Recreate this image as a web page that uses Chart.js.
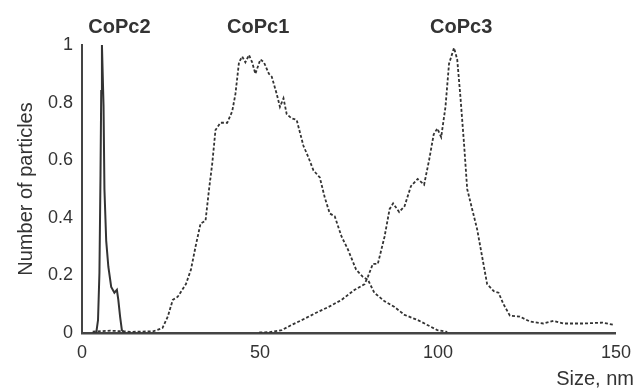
<!DOCTYPE html>
<html>
<head>
<meta charset="utf-8">
<script src="https://cdn.jsdelivr.net/npm/chart.js@4"></script>
<style>
  body { margin: 0; background: #fff; }
  #wrap { width: 640px; height: 389px; }
</style>
</head>
<body>
<div id="wrap"><canvas id="myChart" width="640" height="389"></canvas></div>
<script>
// particle size distributions (size in nm, normalised number of particles)
const sizeCoPc2 = [3, 4.0, 4.5, 4.9, 5.2, 5.4, 5.6, 6.05, 6.3, 6.8, 7.4, 8.2, 9.1, 9.8, 10.2, 10.7, 11.2, 12];
const countCoPc2 = [0, 0, 0.045, 0.21, 0.55, 0.84, 1.0, 0.79, 0.50, 0.32, 0.23, 0.16, 0.14, 0.15, 0.115, 0.057, 0.01, 0];

const sizeCoPc1 = [3, 8, 14, 20, 22.6, 24.1, 25.5, 26.9, 29.2, 30.6, 31.9, 33.3, 34.7, 35.7, 36.6, 37.5, 38.9, 40.8, 42.2, 43.1,
  44.1, 45.0, 45.9, 46.9, 47.8, 48.7, 50.1, 51.1, 52.5, 53.3, 54.7, 55.6, 56.6, 57.5, 58.9, 60.3, 62.2, 63.6, 65.0, 66.8,
  68.2, 69.6, 71.0, 72.9, 74.7, 77.0, 78.9, 80.3, 82.1, 85.0, 87.8, 90.6, 94.3, 97.0, 99.8, 102.6];
const countCoPc1 = [0.005, 0.008, 0.004, 0.006, 0.017, 0.057, 0.115, 0.126, 0.17, 0.22, 0.30, 0.38, 0.39, 0.50, 0.59, 0.705, 0.73, 0.73, 0.77, 0.83,
  0.94, 0.96, 0.94, 0.965, 0.94, 0.90, 0.95, 0.94, 0.90, 0.89, 0.83, 0.785, 0.815, 0.76, 0.745, 0.74, 0.65, 0.61, 0.565, 0.54,
  0.47, 0.415, 0.405, 0.335, 0.29, 0.22, 0.195, 0.185, 0.14, 0.11, 0.09, 0.063, 0.045, 0.028, 0.01, 0.004];

const sizeCoPc3 = [49.8, 52.8, 56.1, 58.9, 62.6, 65.4, 69.2, 72.9, 76.6, 79.4, 80.3, 81.7, 83.1, 85.0, 86.4, 87.4, 89.1, 90.6, 92.4, 94.3,
  96.1, 97.5, 98.8, 99.8, 100.9, 102.1, 103.1, 104.5, 105.4, 106.3, 107.3, 108.2, 109.6, 111.0, 112.4, 113.8, 115.7, 117.0, 118.4, 120.2,
  123.0, 125.8, 129.6, 132.4, 135.2, 140.7, 146.3, 149.5];
const countCoPc3 = [0.002, 0.003, 0.01, 0.028, 0.05, 0.068, 0.09, 0.115, 0.15, 0.17, 0.195, 0.24, 0.24, 0.335, 0.43, 0.45, 0.42, 0.44, 0.51, 0.535,
  0.515, 0.60, 0.69, 0.71, 0.68, 0.785, 0.935, 0.99, 0.95, 0.82, 0.66, 0.50, 0.43, 0.36, 0.265, 0.17, 0.145, 0.14, 0.10, 0.06,
  0.057, 0.04, 0.033, 0.042, 0.033, 0.033, 0.036, 0.028];

const seriesNames = ['CoPc2', 'CoPc1', 'CoPc3'];
const labelSizes = [10.5, 49.5, 106.5];
const xTicks = [0, 50, 100, 150];
const yTicks = [0, 0.2, 0.4, 0.6, 0.8, 1];

const font = '"Liberation Sans", Arial, sans-serif';
const ink = '#333';

function points(xs, ys) {
    return xs.map((x, i) => ({ x: x, y: ys[i] }));
}

// draws the series names above the plot and the x axis title
const textPlugin = {
    id: 'textPlugin',
    afterDraw(chart) {
        const c = chart.ctx;
        const area = chart.chartArea;
        const xs = chart.scales.x;
        c.save();
        c.fillStyle = ink;
        c.textAlign = 'center';
        c.textBaseline = 'alphabetic';
        c.font = 'bold 20px ' + font;
        seriesNames.forEach((n, i) => {
            c.fillText(n, xs.getPixelForValue(labelSizes[i]), area.top - 12);
        });
        c.font = '20px ' + font;
        c.textAlign = 'right';
        c.fillText('Size, nm', area.right + 18, area.bottom + 52);
        c.restore();
    }
};

const ctx = document.getElementById('myChart').getContext('2d');
const myChart = new Chart(ctx, {
    type: 'line',
    data: {
        datasets: [{
            label: seriesNames[0],
            data: points(sizeCoPc2, countCoPc2),
            borderColor: '#333',
            borderWidth: 2,
            pointRadius: 0,
            tension: 0
        }, {
            label: seriesNames[1],
            data: points(sizeCoPc1, countCoPc1),
            borderColor: '#333',
            borderWidth: 1.8,
            borderDash: [3, 2],
            pointRadius: 0,
            tension: 0
        }, {
            label: seriesNames[2],
            data: points(sizeCoPc3, countCoPc3),
            borderColor: '#333',
            borderWidth: 1.8,
            borderDash: [3, 2],
            pointRadius: 0,
            tension: 0
        }]
    },
    options: {
        responsive: false,
        animation: false,
        devicePixelRatio: 1,
        layout: { padding: { top: 45, right: 20, bottom: 0, left: 0 } },
        plugins: {
            legend: { display: false },
            tooltip: { enabled: false }
        },
        scales: {
            x: {
                type: 'linear',
                min: 0,
                max: 150,
                afterBuildTicks: (s) => { s.ticks = xTicks.map(v => ({ value: v })); },
                afterFit: (s) => { s.height = 56; },
                grid: { display: false, drawTicks: false },
                border: { display: true, color: '#444', width: 2.5 },
                ticks: { color: ink, font: { family: font, size: 18 }, padding: 9, maxRotation: 0 }
            },
            y: {
                min: 0,
                max: 1,
                afterBuildTicks: (s) => { s.ticks = yTicks.map(v => ({ value: v })); },
                afterFit: (s) => { s.width = 82; },
                grid: { display: false, drawTicks: false },
                border: { display: true, color: '#444', width: 2 },
                ticks: {
                    color: ink,
                    font: { family: font, size: 18 },
                    padding: 9,
                    callback: (v) => String(v)
                },
                title: {
                    display: true,
                    text: 'Number of particles',
                    color: ink,
                    font: { family: font, size: 20 },
                    padding: { top: 14, bottom: 0 }
                }
            }
        }
    },
    plugins: [textPlugin]
});
</script>
</body>
</html>
